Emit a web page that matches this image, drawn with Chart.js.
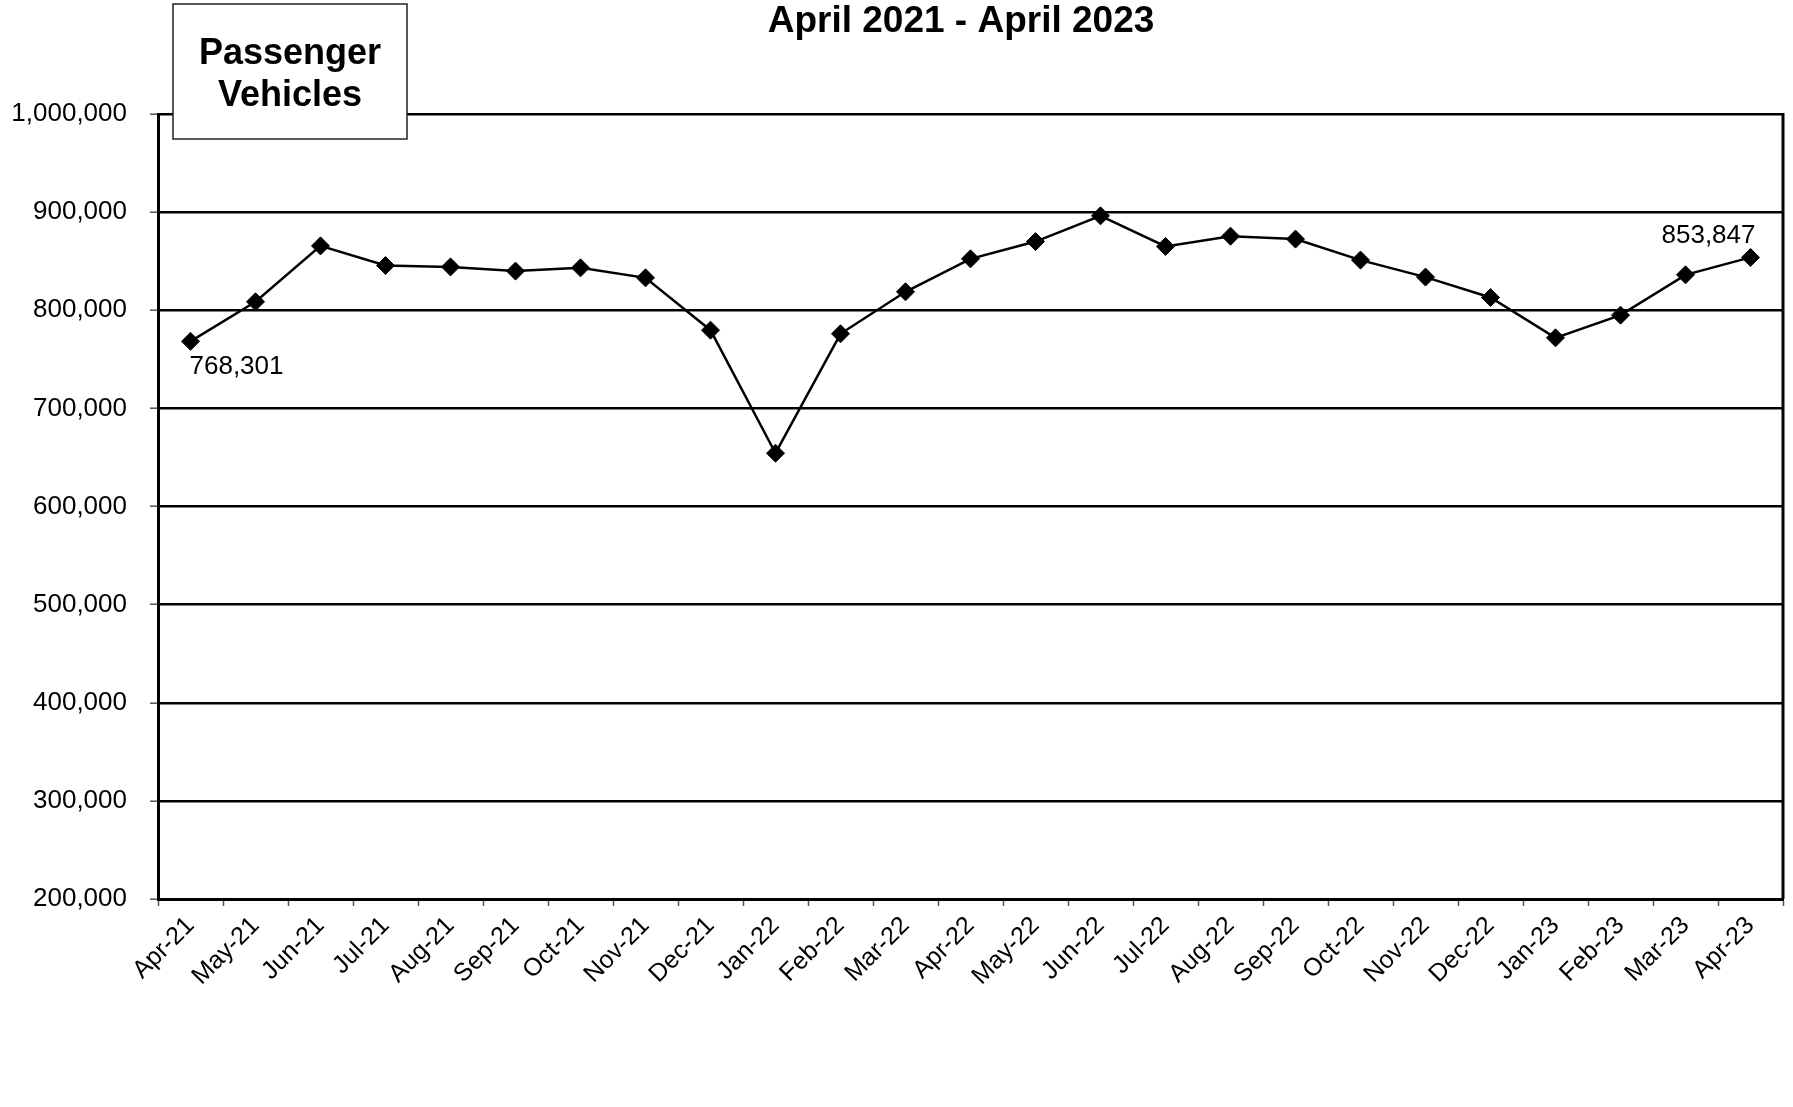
<!DOCTYPE html>
<html>
<head>
<meta charset="utf-8">
<script src="https://cdn.jsdelivr.net/npm/chart.js@4.4.0/dist/chart.umd.min.js"></script>
<style>
  body { margin: 0; background: #fff; }
  #wrap { width: 1793px; height: 1107px; }
</style>
</head>
<body>
<div id="wrap"><canvas id="myChart" width="1793" height="1107"></canvas></div>
<script>
// Chart data
const months = ['Apr-21', 'May-21', 'Jun-21', 'Jul-21', 'Aug-21', 'Sep-21', 'Oct-21', 'Nov-21', 'Dec-21',
    'Jan-22', 'Feb-22', 'Mar-22', 'Apr-22', 'May-22', 'Jun-22', 'Jul-22', 'Aug-22', 'Sep-22', 'Oct-22',
    'Nov-22', 'Dec-22', 'Jan-23', 'Feb-23', 'Mar-23', 'Apr-23'];
const passengerVehicles = [768301, 808600, 865600, 845600, 844200, 839900, 843200, 833000, 779700,
    654300, 776000, 818800, 852400, 870000, 896200, 865000, 875500, 872500, 851100,
    833800, 813000, 771900, 795000, 836100, 853847];
const yMin = 200000;
const yMax = 1000000;
const yStep = 100000;
const chartTitle = 'April 2021 - April 2023';
const boxLines = ['Passenger', 'Vehicles'];

const FONT = '"Liberation Sans", Arial, sans-serif';
const fmt = v => v.toLocaleString('en-US');

// Title, label box, right border and end-point labels
const decorations = {
    id: 'decorations',
    afterDraw(chart) {
        const { ctx, chartArea } = chart;
        ctx.save();

        ctx.strokeStyle = '#000';
        ctx.lineWidth = 3;
        ctx.beginPath();
        ctx.moveTo(chartArea.right, chartArea.top - 1);
        ctx.lineTo(chartArea.right, chartArea.bottom);
        ctx.stroke();

        ctx.fillStyle = '#000';
        ctx.font = 'bold 37px ' + FONT;
        ctx.textAlign = 'center';
        ctx.textBaseline = 'alphabetic';
        ctx.fillText(chartTitle, 961, 32);

        ctx.fillStyle = '#fff';
        ctx.fillRect(173, 4, 234, 135);
        ctx.strokeStyle = '#222';
        ctx.lineWidth = 1.5;
        ctx.strokeRect(173, 4, 234, 135);
        ctx.fillStyle = '#000';
        ctx.font = 'bold 36px ' + FONT;
        ctx.fillText(boxLines[0], 290, 64);
        ctx.fillText(boxLines[1], 290, 106);

        const meta = chart.getDatasetMeta(0);
        const first = meta.data[0];
        const last = meta.data[meta.data.length - 1];
        ctx.font = '26px ' + FONT;
        ctx.textAlign = 'left';
        ctx.fillText(fmt(passengerVehicles[0]), first.x - 1, first.y + 33);
        ctx.textAlign = 'right';
        ctx.fillText(fmt(passengerVehicles[passengerVehicles.length - 1]), last.x + 5, last.y - 14);

        ctx.restore();
    }
};

const ctx = document.getElementById('myChart').getContext('2d');
const myChart = new Chart(ctx, {
    type: 'line',
    data: {
        labels: months,
        datasets: [{
            label: 'Passenger Vehicles',
            data: passengerVehicles,
            borderColor: '#000',
            borderWidth: 2.5,
            backgroundColor: '#000',
            pointStyle: 'rectRot',
            pointRadius: 9,
            pointBorderWidth: 1,
            pointBackgroundColor: '#000',
            pointBorderColor: '#000',
            tension: 0
        }]
    },
    options: {
        responsive: false,
        animation: false,
        devicePixelRatio: 1,
        layout: { padding: { top: 114, right: 9, left: 0, bottom: 0 } },
        plugins: {
            legend: { display: false },
            title: { display: false },
            tooltip: { enabled: false }
        },
        scales: {
            x: {
                offset: true,
                afterFit: s => { s.height = 208; },
                grid: { drawOnChartArea: false, offset: true, tickLength: 7, tickColor: '#555', tickWidth: 1.5 },
                border: { color: '#000', width: 3 },
                ticks: {
                    autoSkip: false,
                    maxRotation: 45,
                    minRotation: 45,
                    padding: 5,
                    color: '#000',
                    font: { family: FONT, size: 25 }
                }
            },
            y: {
                min: yMin,
                max: yMax,
                afterFit: s => { s.width = 158; },
                grid: { color: '#000', lineWidth: 2.4, tickLength: 8, tickColor: '#555', tickWidth: 1.5 },
                border: { color: '#000', width: 3 },
                ticks: {
                    stepSize: yStep,
                    padding: 23,
                    color: '#000',
                    font: { family: FONT, size: 26 },
                    callback: v => fmt(v)
                }
            }
        }
    },
    plugins: [decorations]
});
</script>
</body>
</html>
